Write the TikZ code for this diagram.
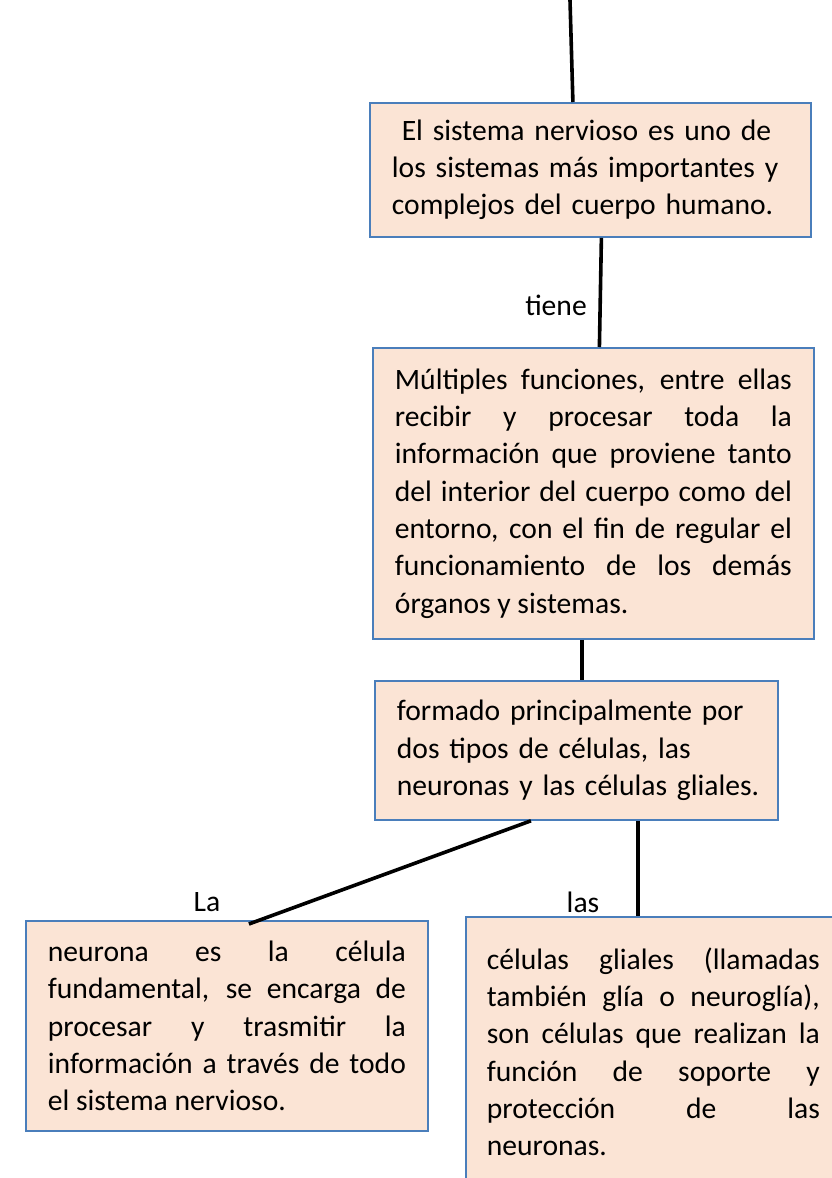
\documentclass[tikz,border=0pt]{standalone}
\usepackage{fontspec}
\setmainfont{Carlito}
\usetikzlibrary{positioning}
\definecolor{box fill}{HTML}{FBE4D5}
\definecolor{box edge}{HTML}{4A7EBB}
\tikzset{
  concept/.style={draw=box edge, fill=box fill, line width=1.8pt, rectangle,
    anchor=north west, inner xsep=22pt, inner ysep=0pt,
    font=\fontsize{29.6}{37.3}\selectfont},
  link/.style={line width=3.6pt, black},
  linklabel/.style={font=\fontsize{29.6}{37.3}\selectfont, inner sep=0pt}
}

\begin{document}
\begin{tikzpicture}[x=1pt, y=-1pt]
    \useasboundingbox (0,0) rectangle (831,1178);
    \node[concept, text width=397pt, minimum height=134pt, align=left] (sistema) at (369,102)
        {\ El sistema nervioso es uno de\\los sistemas más importantes y\\complejos del cuerpo humano.};
    \node[concept, text width=397pt, minimum height=291pt, align=justify] (funciones) at (372,347)
        {Múltiples funciones, entre ellas\linebreak recibir y procesar toda la\linebreak información que proviene tanto\linebreak del interior del cuerpo como del\linebreak entorno, con el fin de regular el\linebreak funcionamiento de los demás\linebreak órganos y sistemas.};
    \node[concept, text width=359pt, minimum height=139pt, align=left] (formado) at (374,680)
        {formado principalmente por\\dos tipos de células, las\\\mbox{neuronas y las células gliales.}};
    \node[concept, text width=358pt, minimum height=210pt, align=justify] (neurona) at (25,920)
        {neurona es la célula\linebreak fundamental, se encarga de\linebreak procesar y trasmitir la\linebreak información a través de todo\linebreak el sistema nervioso.};
    \node[concept, text width=333pt, inner xsep=21pt, minimum height=270pt, align=justify] (glia) at (465,916)
        {células gliales (llamadas\linebreak también glía o neuroglía),\linebreak son células que realizan la\linebreak función de soporte y\linebreak protección de las\linebreak neuronas.};
    \coordinate (arriba) at (570,0);
    \node[linklabel] (tiene) at (556,305) {tiene};
    \node[linklabel] (la) at (207,902) {La};
    \node[linklabel] (las) at (583,902) {las};
    \draw[link] (arriba) -- ([xshift=-17.5pt]sistema.north);
    \draw[link] ([xshift=11pt]sistema.south) -- ([xshift=6pt]funciones.north);
    \draw[link] ([xshift=-11.5pt]funciones.south) -- ([xshift=5.5pt]formado.north);
    \draw[link] ([xshift=-45.5pt]formado.south) -- ([xshift=22pt, yshift=-4pt]neurona.north);
    \draw[link] ([xshift=61.5pt]formado.south) -- ([xshift=-15.5pt]glia.north);
\end{tikzpicture}
\end{document}
